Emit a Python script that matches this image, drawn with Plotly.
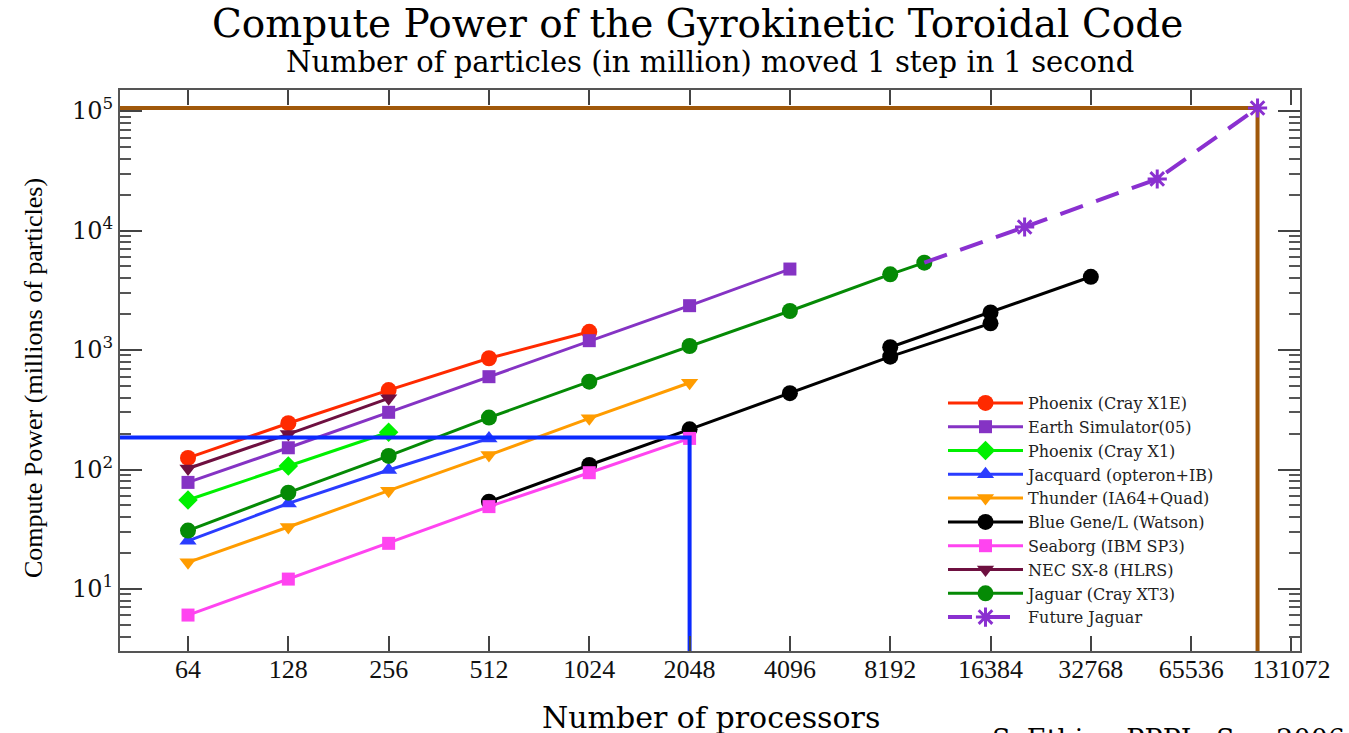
import math
import plotly.graph_objects as go

# ---------------- data ----------------
procs = [64, 128, 256, 512, 1024, 2048, 4096, 8192, 16384, 32768, 65536, 131072]
proc_labels = [str(p) for p in procs]

phoenix_x1e_x = [64, 128, 256, 512, 1024]
phoenix_x1e_y = [125, 244, 462, 853, 1420]

earth_sim_x = [64, 128, 256, 512, 1024, 2048, 4096]
earth_sim_y = [78, 152, 301, 598, 1197, 2350, 4760]

phoenix_x1_x = [64, 128, 256]
phoenix_x1_y = [55.6, 107, 205]

jacquard_x = [64, 128, 256, 512]
jacquard_y = [25.3, 52, 99, 182]

thunder_x = [64, 128, 256, 512, 1024, 2048]
thunder_y = [16.7, 33, 66.5, 132, 268, 532]

bgl_x = [512, 1024, 2048, 4096, 8192, 16384]
bgl_y = [53.8, 109, 217, 435, 879, 1672]
bgl2_x = [8192, 16384, 32768]
bgl2_y = [1054, 2065, 4100]

seaborg_x = [64, 128, 256, 512, 1024, 2048]
seaborg_y = [6.05, 12.1, 24.1, 48.9, 94, 182]

nec_x = [64, 128, 256]
nec_y = [102, 198, 394]

jaguar_x = [64, 128, 256, 512, 1024, 2048, 4096, 8192, 10368]
jaguar_y = [30.8, 64, 130, 272, 543, 1080, 2120, 4300, 5380]

future_x = [20736, 51840, 103680]
future_y = [10700, 27000, 106000]

# reference marks
blue_ref_x = 2048
blue_ref_y = 185
brown_ref_x = 103680
brown_ref_y = 106000

y_ticks = [10, 100, 1000, 10000, 100000]
y_tick_labels = ["10<sup>1</sup>", "10<sup>2</sup>", "10<sup>3</sup>", "10<sup>4</sup>", "10<sup>5</sup>"]

# axis ranges (log10)
x_range = [math.log10(2 ** 5.322), math.log10(2 ** 17.085)]
y_range = [0.481, 5.176]
x_lo = 10 ** x_range[0]
y_lo = 10 ** y_range[0]

FONT = "Liberation Serif"
WIDE = "DejaVu Serif"

fig = go.Figure()

# brown reference lines
fig.add_trace(go.Scatter(x=[x_lo, brown_ref_x, brown_ref_x], y=[brown_ref_y, brown_ref_y, y_lo],
                         mode="lines", line=dict(color="#a0580a", width=4),
                         showlegend=False, hoverinfo="skip"))

def series(name, x, y, color, symbol, size=15, width=3, show=True):
    fig.add_trace(go.Scatter(x=x, y=y, name=name, mode="lines+markers",
                             line=dict(color=color, width=width),
                             marker=dict(color=color, symbol=symbol, size=size),
                             showlegend=show))

series("Phoenix (Cray X1E)", phoenix_x1e_x, phoenix_x1e_y, "#ff2a00", "circle", 16)
series("Earth Simulator(05)", earth_sim_x, earth_sim_y, "#8533c4", "square", 13)
series("Phoenix (Cray X1)", phoenix_x1_x, phoenix_x1_y, "#00f000", "diamond", 15)
series("Jacquard (opteron+IB)", jacquard_x, jacquard_y, "#2a3cff", "triangle-up", 15)
series("Thunder (IA64+Quad)", thunder_x, thunder_y, "#ff9c00", "triangle-down", 15)
series("Blue Gene/L (Watson)", bgl_x, bgl_y, "#000000", "circle", 16)
series("Seaborg (IBM SP3)", seaborg_x, seaborg_y, "#ff44f0", "square", 13)
series("NEC SX-8 (HLRS)", nec_x, nec_y, "#6e1040", "triangle-down", 15)
series("Jaguar (Cray XT3)", jaguar_x, jaguar_y, "#058a05", "circle", 16)
series("Blue Gene/L (Watson)", bgl2_x, bgl2_y, "#000000", "circle", 16, show=False)

# future jaguar: connector from last Jaguar point + starred points
fig.add_trace(go.Scatter(x=[jaguar_x[-1], future_x[0]], y=[jaguar_y[-1], future_y[0]],
                         mode="lines", line=dict(color="#8a30d0", width=4, dash="24px,14px"),
                         showlegend=False, hoverinfo="skip"))
fig.add_trace(go.Scatter(x=future_x, y=future_y, name="Future Jaguar", mode="lines+markers",
                         line=dict(color="#8a30d0", width=4, dash="24px,14px"),
                         marker=dict(symbol="asterisk-open", size=16,
                                     line=dict(color="#8a30d0", width=3))))

# blue reference lines
fig.add_trace(go.Scatter(x=[x_lo, blue_ref_x, blue_ref_x], y=[blue_ref_y, blue_ref_y, y_lo],
                         mode="lines", line=dict(color="#0a2aff", width=4),
                         showlegend=False, hoverinfo="skip"))

axis_common = dict(showline=True, linecolor="#555555", linewidth=2, mirror="allticks",
                   ticks="inside", tickcolor="#444444", tickwidth=2, showgrid=False,
                   zeroline=False)

minor_vals = [m * 10 ** k for k in range(0, 6) for m in range(2, 10)]

fig.update_xaxes(type="log", range=x_range, tickmode="array", tickvals=procs,
                 ticktext=proc_labels, ticklen=15, ticklabelstandoff=-6,
                 tickfont=dict(family=FONT, size=26, color="#111111"), **axis_common)
fig.update_yaxes(type="log", range=y_range, tickmode="array", tickvals=y_ticks,
                 ticktext=y_tick_labels, ticklen=22,
                 tickfont=dict(family=WIDE, size=24, color="#111111"),
                 minor=dict(tickmode="array", tickvals=minor_vals, ticks="inside",
                            ticklen=11, tickwidth=2, tickcolor="#555555", showgrid=False),
                 **axis_common)

L, R, T, B = 120, 49, 90, 82
H = 733
ph = H - T - B

def py(pix):
    return (H - B - pix) / ph

annotations = [
    dict(text="Compute Power of the Gyrokinetic Toroidal Code", x=(697 - L) / 1180, y=py(24),
         font=dict(family=WIDE, size=39, color="#000000")),
    dict(text="Number of particles (in million) moved 1 step in 1 second", x=(710 - L) / 1180,
         y=py(62), font=dict(family=WIDE, size=29, color="#000000")),
    dict(text="Number of processors", x=(711 - L) / 1180, y=py(717),
         font=dict(family=WIDE, size=30, color="#000000")),
    dict(text="Compute Power (millions of particles)", x=(33 - L) / 1180, y=py(378),
         textangle=-90, font=dict(family=FONT, size=26, color="#000000")),
    dict(text="S. Ethier, PPPL, Sep 2006", x=(990 - L) / 1180, y=py(722),
         xanchor="left", yanchor="top",
         font=dict(family=WIDE, size=27, color="#000000")),
]
for a in annotations:
    a.setdefault("xanchor", "center")
    a.setdefault("yanchor", "middle")
    a.update(xref="paper", yref="paper", showarrow=False)

fig.update_layout(
    width=1349, height=733,
    margin=dict(l=L, r=R, t=T, b=B),
    paper_bgcolor="white", plot_bgcolor="white",
    annotations=annotations,
    legend=dict(x=(943 - L) / 1180, y=py(386), xanchor="left", yanchor="top",
                bgcolor="rgba(0,0,0,0)", font=dict(family=WIDE, size=16, color="#222222"),
                itemwidth=75, tracegroupgap=0),
    showlegend=True,
)

fig.write_html("out.html")
